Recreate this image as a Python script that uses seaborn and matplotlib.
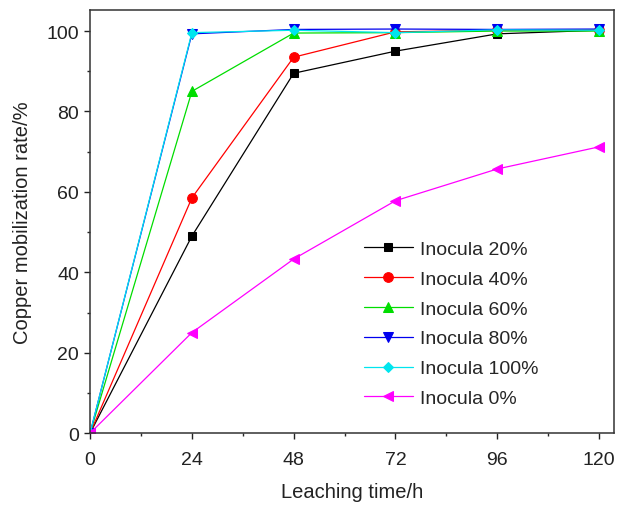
import numpy as np
import pandas as pd
import matplotlib
matplotlib.use("Agg")
import matplotlib.pyplot as plt
from matplotlib.ticker import MultipleLocator
import seaborn as sns

# Leaching time points (h)
time_h = [0, 24, 48, 72, 96, 120]

# Copper mobilization rate (%) for each inoculum level
inocula_20 = [0, 49.0, 89.5, 95.0, 99.3, 100.2]
inocula_40 = [0, 58.5, 93.5, 99.8, 100.2, 100.3]
inocula_60 = [0, 85.0, 99.5, 99.6, 100.0, 100.0]
inocula_80 = [0, 99.3, 100.4, 100.5, 100.4, 100.5]
inocula_100 = [0, 99.6, 100.2, 99.6, 100.3, 100.2]
inocula_0 = [0, 25.0, 43.3, 57.8, 65.7, 71.2]

series_names = ["Inocula 20%", "Inocula 40%", "Inocula 60%",
                "Inocula 80%", "Inocula 100%", "Inocula 0%"]
series_values = [inocula_20, inocula_40, inocula_60,
                 inocula_80, inocula_100, inocula_0]

colors = ["#000000", "#ff0000", "#00dd00", "#0000ee", "#00e5ee", "#ff00ff"]
markers = ["s", "o", "^", "v", "D", "<"]
msizes = [6, 7, 7, 7, 5.5, 7]

df = pd.DataFrame({
    "time": np.tile(time_h, len(series_names)),
    "rate": np.concatenate(series_values),
    "series": np.repeat(series_names, len(time_h)),
})

sns.set_style("ticks")
plt.rcParams["font.family"] = ["Liberation Sans", "DejaVu Sans"]

fig = plt.figure(figsize=(6.17, 5.06), dpi=100)
ax = fig.add_axes([0.146, 0.142, 0.849, 0.836])

for name, c, m, ms in zip(series_names, colors, markers, msizes):
    sub = df[df["series"] == name]
    sns.lineplot(data=sub, x="time", y="rate", ax=ax, color=c, marker=m,
                 markersize=ms, markeredgecolor=c, linewidth=0.9,
                 label=name, estimator=None, sort=False)

ax.set_xlim(0, 123.5)
ax.set_ylim(0, 105.2)
ax.xaxis.set_major_locator(MultipleLocator(24))
ax.xaxis.set_minor_locator(MultipleLocator(12))
ax.yaxis.set_major_locator(MultipleLocator(20))
ax.yaxis.set_minor_locator(MultipleLocator(10))
ax.tick_params(which="major", direction="out", length=4, width=1, labelsize=14,
               colors="#222222")
ax.tick_params(axis="x", which="major", pad=9)
ax.tick_params(axis="y", which="major", pad=4)
ax.tick_params(which="minor", direction="out", length=2.5, width=1)
for sp in ax.spines.values():
    sp.set_visible(True)
    sp.set_linewidth(1.1)
    sp.set_color("#333333")

ax.set_xlabel("Leaching time/h", fontsize=14.5, color="#222222", labelpad=10)
ax.set_ylabel("Copper mobilization rate/%", fontsize=14.5, color="#222222",
              labelpad=10)

leg = ax.legend(loc="lower right", bbox_to_anchor=(0.89, 0.02), frameon=False,
                fontsize=14, handlelength=2.5, labelspacing=0.63,
                handletextpad=0.4)

fig.savefig("out.png", dpi=100)
